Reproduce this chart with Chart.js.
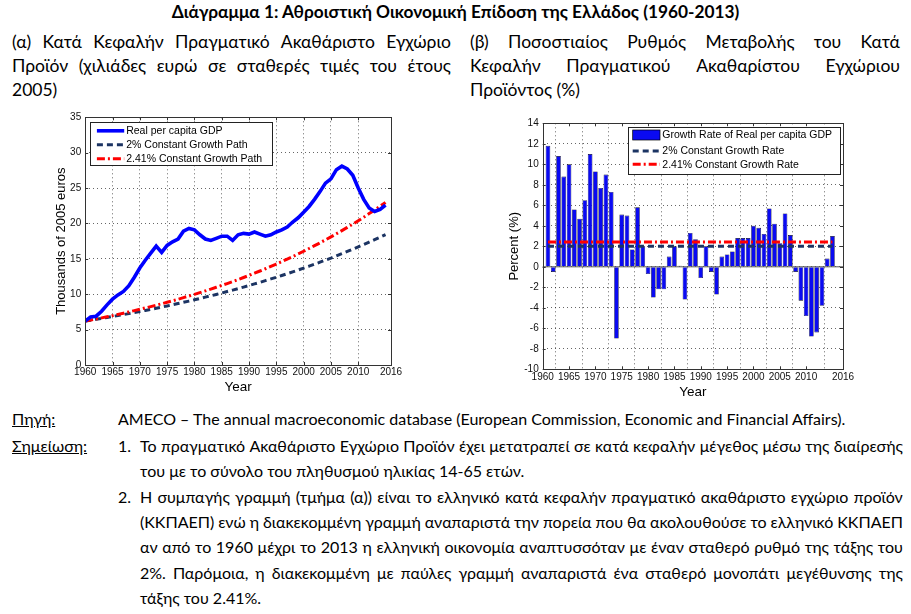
<!DOCTYPE html>
<html>
<head>
<meta charset="utf-8">
<script src="https://cdn.jsdelivr.net/npm/chart.js@4.4.0/dist/chart.umd.min.js"></script>
<style>
  html,body{margin:0;padding:0;background:#fff;}
  body{width:911px;height:614px;position:relative;overflow:hidden;font-family:Lato,'Liberation Sans',sans-serif;color:#000;}
  .t{position:absolute;white-space:nowrap;line-height:24px;height:24px;}
  .j{display:flex;justify-content:space-between;}
  .hd{font-size:17.5px;}
  .ft{font-size:16px;}
  .u{text-decoration:underline;}
  .cv{position:absolute;}
</style>
</head>
<body>
<div class="t" style="left:0;width:911px;top:0;text-align:center;font-weight:bold;font-size:17.3px;">Διάγραμμα 1: Αθροιστική Οικονομική Επίδοση της Ελλάδος (1960-2013)</div>

<div class="t hd j" style="left:12px;width:439px;top:30px;">(α) Κατά Κεφαλήν Πραγματικό Ακαθάριστο Εγχώριο</div>
<div class="t hd j" style="left:12px;width:439px;top:54px;">Προϊόν (χιλιάδες ευρώ σε σταθερές τιμές του έτους</div>
<div class="t hd" style="left:12px;top:78px;">2005)</div>

<div class="t hd j" style="left:470px;width:430px;top:30px;">(β) Ποσοστιαίος Ρυθμός Μεταβολής του Κατά</div>
<div class="t hd j" style="left:470px;width:430px;top:54px;">Κεφαλήν Πραγματικού Ακαθαρίστου Εγχώριου</div>
<div class="t hd" style="left:470px;top:78px;">Προϊόντος (%)</div>

<div class="cv" style="left:45px;top:105px;width:360px;height:290px;"><canvas id="cL" width="360" height="290"></canvas></div>
<div class="cv" style="left:495px;top:110px;width:365px;height:290px;"><canvas id="cR" width="365" height="290"></canvas></div>

<div class="t ft u" style="left:12px;top:407px;">Πηγή:</div>
<div class="t ft" style="left:118px;top:407px;">AMECO – The annual macroeconomic database (European Commission, Economic and Financial Affairs).</div>
<div class="t ft u" style="left:12px;top:434px;">Σημείωση:</div>
<div class="t ft" style="left:118px;top:434px;">1.</div>
<div class="t ft j" style="left:140px;width:763px;top:434px;">Το πραγματικό Ακαθάριστο Εγχώριο Προϊόν έχει μετατραπεί σε κατά κεφαλήν μέγεθος μέσω της διαίρεσής</div>
<div class="t ft" style="left:140px;top:459px;">του με το σύνολο του πληθυσμού ηλικίας 14-65 ετών.</div>
<div class="t ft" style="left:118px;top:485px;">2.</div>
<div class="t ft j" style="left:140px;width:763px;top:485px;">Η συμπαγής γραμμή (τμήμα (α)) είναι το ελληνικό κατά κεφαλήν πραγματικό ακαθάριστο εγχώριο προϊόν</div>
<div class="t ft j" style="left:140px;width:763px;top:510px;">(ΚΚΠΑΕΠ) ενώ η διακεκομμένη γραμμή αναπαριστά την πορεία που θα ακολουθούσε το ελληνικό ΚΚΠΑΕΠ</div>
<div class="t ft j" style="left:140px;width:763px;top:535px;">αν από το 1960 μέχρι το 2013 η ελληνική οικονομία αναπτυσσόταν με έναν σταθερό ρυθμό της τάξης του</div>
<div class="t ft j" style="left:140px;width:763px;top:561px;">2%. Παρόμοια, η διακεκομμένη με παύλες γραμμή αναπαριστά ένα σταθερό μονοπάτι μεγέθυνσης της</div>
<div class="t ft" style="left:140px;top:586px;">τάξης του 2.41%.</div>

<script>
// ---------------- DATA ----------------
const years = [1960,1961,1962,1963,1964,1965,1966,1967,1968,1969,
  1970,1971,1972,1973,1974,1975,1976,1977,1978,1979,
  1980,1981,1982,1983,1984,1985,1986,1987,1988,1989,
  1990,1991,1992,1993,1994,1995,1996,1997,1998,1999,
  2000,2001,2002,2003,2004,2005,2006,2007,2008,2009,
  2010,2011,2012,2013,2014,2015];
// Real per capita GDP (thousands of 2005 euros)
const realGdp = [6.2,6.8,6.9,7.6,8.5,9.3,9.9,10.4,11.2,12.4,
  13.7,14.8,15.8,16.8,15.9,16.9,17.4,17.8,18.9,19.3,
  19.1,18.4,17.8,17.6,17.9,18.2,18.2,17.6,18.4,18.6,
  18.5,18.8,18.5,18.2,18.4,18.8,19.1,19.5,20.2,20.8,
  21.6,22.4,23.4,24.5,25.7,26.3,27.6,28.1,27.7,26.8,
  25.0,23.4,22.2,21.7,22.0,22.6];
// 2% constant growth path
const path2 = [6.20,6.32,6.45,6.58,6.71,6.85,6.98,7.12,7.26,7.41,
  7.56,7.71,7.86,8.02,8.18,8.34,8.51,8.68,8.86,9.03,
  9.21,9.40,9.59,9.78,9.97,10.17,10.38,10.58,10.79,11.01,
  11.23,11.46,11.68,11.92,12.16,12.40,12.65,12.90,13.16,13.42,
  13.69,13.96,14.24,14.53,14.82,15.11,15.42,15.73,16.04,16.36,
  16.69,17.02,17.36,17.71,18.06,18.42];
// 2.41% constant growth path
const path241 = [6.20,6.35,6.50,6.66,6.82,6.98,7.15,7.32,7.50,7.68,
  7.87,8.06,8.25,8.45,8.65,8.86,9.07,9.29,9.52,9.75,
  9.98,10.22,10.47,10.72,10.98,11.24,11.51,11.79,12.07,12.36,
  12.66,12.97,13.28,13.60,13.93,14.27,14.61,14.96,15.32,15.69,
  16.07,16.46,16.86,17.26,17.68,18.10,18.54,18.99,19.44,19.91,
  20.39,20.88,21.39,21.90,22.43,22.97];

const growthYears = [1961,1962,1963,1964,1965,1966,1967,1968,1969,1970,
  1971,1972,1973,1974,1975,1976,1977,1978,1979,1980,
  1981,1982,1983,1984,1985,1986,1987,1988,1989,1990,
  1991,1992,1993,1994,1995,1996,1997,1998,1999,2000,
  2001,2002,2003,2004,2005,2006,2007,2008,2009,2010,
  2011,2012,2013,2014,2015];
// Growth rate of real per capita GDP (%)
const growth = [11.8,-0.5,10.8,8.8,10.0,5.6,4.7,6.5,11.0,9.3,
  7.7,9.0,7.3,-7.0,5.1,5.0,1.7,5.8,2.0,-0.7,
  -3.0,-2.2,-2.2,1.0,2.0,0.1,-3.2,3.3,2.7,-1.1,
  2.0,-0.5,-2.7,1.0,1.2,1.5,2.8,2.8,2.8,4.0,
  3.8,3.2,5.7,4.2,2.3,5.2,3.1,-0.5,-3.3,-4.8,
  -6.8,-6.4,-3.8,0.8,3.0];
// Constant growth rate reference lines (start/end years and levels)
const rateYears = [1961, 2015];
const rate2 = [2, 2];
const rate241 = [2.41, 2.41];

const legendLeft = ['Real per capita GDP','2% Constant Growth Path','2.41% Constant Growth Path'];
const legendRight = ['Growth Rate of Real per capita GDP','2% Constant Growth Rate','2.41% Constant Growth Rate'];

const xTickValsLeft = [1960,1965,1970,1975,1980,1985,1990,1995,2000,2005,2010,2016];
const xTickValsRight = [1960,1965,1970,1975,1980,1985,1990,1995,2000,2005,2010,2017];
const xTickLabels = ['1960','1965','1970','1975','1980','1985','1990','1995','2000','2005','2010','2016'];
const yTicksLeft = [0,5,10,15,20,25,30,35];
const yTicksRight = [-10,-8,-6,-4,-2,0,2,4,6,8,10,12,14];

// ---------------- TEXT JUSTIFY ----------------
document.querySelectorAll('.j').forEach(el => {
  const words = el.textContent.trim().split(/\s+/);
  el.textContent = '';
  words.forEach(w => { const s = document.createElement('span'); s.textContent = w; el.appendChild(s); });
});

// ---------------- STYLES ----------------
const tickFont = {family:"'Liberation Sans Narrow','Liberation Sans',Arial,sans-serif", size:10};
const axisFont = {family:"'Liberation Sans',Arial,sans-serif", size:13};
const legendFontStr = "10.5px 'Liberation Sans', Arial, sans-serif";
const NAVY = '#1c3463';
const RED = '#ff0000';
const BLUE = '#0000ff';

const framePlugin = {
  id: 'frame',
  afterDraw(chart, args, o) {
    const {ctx, chartArea: a} = chart;
    const xs = chart.scales.x, ys = chart.scales.y;
    ctx.save();
    if (o.baseline) {
      const y0 = ys.getPixelForValue(0);
      ctx.strokeStyle = '#555'; ctx.lineWidth = 1; ctx.setLineDash([]);
      ctx.beginPath(); ctx.moveTo(a.left, y0); ctx.lineTo(a.right, y0); ctx.stroke();
    }
    // box
    ctx.strokeStyle = '#333'; ctx.lineWidth = 1; ctx.setLineDash([]);
    ctx.strokeRect(Math.round(a.left)+0.5, Math.round(a.top)+0.5, Math.round(a.right-a.left), Math.round(a.bottom-a.top));
    // inward ticks
    const tl = 3;
    ctx.beginPath();
    xs.ticks.forEach(t => {
      const px = Math.round(xs.getPixelForValue(t.value))+0.5;
      ctx.moveTo(px, a.bottom); ctx.lineTo(px, a.bottom - tl);
      ctx.moveTo(px, a.top); ctx.lineTo(px, a.top + tl);
    });
    ys.ticks.forEach(t => {
      const py = Math.round(ys.getPixelForValue(t.value))+0.5;
      ctx.moveTo(a.left, py); ctx.lineTo(a.left + tl, py);
      ctx.moveTo(a.right, py); ctx.lineTo(a.right - tl, py);
    });
    ctx.stroke();

    // legend
    const L = o.legend;
    const bx = L.right != null ? a.right - L.right - L.w : a.left + L.left;
    const by = a.top + L.top;
    ctx.fillStyle = '#fff';
    ctx.fillRect(bx, by, L.w, L.h);
    ctx.strokeStyle = '#222'; ctx.lineWidth = 1;
    ctx.strokeRect(Math.round(bx)+0.5, Math.round(by)+0.5, Math.round(L.w), Math.round(L.h));
    ctx.font = legendFontStr; ctx.textBaseline = 'middle'; ctx.textAlign = 'left';
    L.order.forEach((di, k) => {
      const ds = chart.data.datasets[di];
      const cy = by + L.rows[k];
      const x0 = bx + L.s0, x1 = bx + L.s1;
      if (ds.type === 'bar') {
        ctx.fillStyle = ds.backgroundColor;
        ctx.fillRect(x0, cy - 5, x1 - x0, 10);
        ctx.strokeStyle = '#000'; ctx.lineWidth = 0.7; ctx.setLineDash([]);
        ctx.strokeRect(x0, cy - 5, x1 - x0, 10);
      } else {
        ctx.strokeStyle = ds.borderColor; ctx.lineWidth = ds.borderWidth;
        ctx.setLineDash(ds.borderDash || []);
        ctx.beginPath(); ctx.moveTo(x0, cy); ctx.lineTo(x1, cy); ctx.stroke();
        ctx.setLineDash([]);
      }
      ctx.fillStyle = '#000';
      ctx.fillText(ds.label, bx + L.tx, cy + 0.5);
    });
    ctx.restore();
  }
};

function xScale(min, max, vals, titlePad, h) {
  return {
    type: 'linear', min, max, offset: false,
    afterBuildTicks: s => { s.ticks = vals.map(v => ({value: v})); },
    afterFit: s => { s.height = h; },
    ticks: { callback: (v, i) => xTickLabels[i], font: tickFont, color: '#111', padding: titlePad, maxRotation: 0, autoSkip: false },
    grid: { color: 'rgba(0,0,0,0.6)', lineWidth: 1, drawTicks: false },
    border: { display: false, dash: [1, 3] },
    title: { display: true, text: 'Year', font: {family: axisFont.family, size: 13.5}, color: '#000', padding: {top: 0, bottom: 0} }
  };
}
function yScale(min, max, vals, title, w, tpad) {
  return {
    min, max,
    afterBuildTicks: s => { s.ticks = vals.map(v => ({value: v})); },
    afterFit: s => { s.width = w; },
    ticks: { font: tickFont, color: '#111', padding: 4 },
    grid: { color: 'rgba(0,0,0,0.6)', lineWidth: 1, drawTicks: false },
    border: { display: false, dash: [1, 3] },
    title: { display: true, text: title, font: axisFont, color: '#000', padding: {top: tpad, bottom: 0} }
  };
}

// ---------------- LEFT CHART ----------------
new Chart(document.getElementById('cL'), {
  type: 'line',
  data: {
    datasets: [
      {label: legendLeft[0], data: years.map((y, i) => ({x: y, y: realGdp[i]})), borderColor: BLUE, borderWidth: 3.6, pointRadius: 0, tension: 0, order: 0},
      {label: legendLeft[1], data: years.map((y, i) => ({x: y, y: path2[i]})), borderColor: NAVY, borderWidth: 3, borderDash: [6, 4], pointRadius: 0, order: 2},
      {label: legendLeft[2], data: years.map((y, i) => ({x: y, y: path241[i]})), borderColor: RED, borderWidth: 3, borderDash: [8, 3, 2, 3], pointRadius: 0, order: 1}
    ]
  },
  options: {
    responsive: false, animation: false,
    layout: {padding: {left: 0, top: 12.3, right: 14, bottom: 0}},
    plugins: {
      legend: {display: false}, tooltip: {enabled: false},
      frame: {baseline: false, legend: {left: 5, top: 5, w: 182, h: 43, rows: [8.5, 22.5, 36.5], s0: 6.7, s1: 34, tx: 36, order: [0, 1, 2]}}
    },
    scales: {
      x: xScale(1960, 2016, xTickValsLeft, 1, 30),
      y: yScale(0, 35, yTicksLeft, 'Thousands of 2005 euros', 40.2, 8.5)
    }
  },
  plugins: [framePlugin]
});

// ---------------- RIGHT CHART ----------------
new Chart(document.getElementById('cR'), {
  data: {
    datasets: [
      {type: 'bar', label: legendRight[0], data: growthYears.map((y, i) => ({x: y, y: growth[i]})), backgroundColor: '#0a0af2', borderColor: '#000022', borderWidth: 0.6, categoryPercentage: 1, barPercentage: 0.88, order: 3},
      {type: 'line', label: legendRight[1], data: rateYears.map((y, i) => ({x: y, y: rate2[i]})), borderColor: NAVY, borderWidth: 3, borderDash: [6, 4], pointRadius: 0, order: 1},
      {type: 'line', label: legendRight[2], data: rateYears.map((y, i) => ({x: y, y: rate241[i]})), borderColor: RED, borderWidth: 3, borderDash: [8, 3, 2, 3], pointRadius: 0, order: 0}
    ]
  },
  options: {
    responsive: false, animation: false,
    layout: {padding: {left: 0, top: 13.3, right: 17, bottom: 0}},
    plugins: {
      legend: {display: false}, tooltip: {enabled: false},
      frame: {baseline: true, legend: {right: 2.3, top: 3.4, w: 212.4, h: 46.6, rows: [8.3, 24.3, 37.6], s0: 4.4, s1: 31.7, tx: 34, order: [0, 1, 2]}}
    },
    scales: {
      x: xScale(1960, 2017, xTickValsRight, 1.7, 30.7),
      y: yScale(-10, 14, yTicksRight, 'Percent (%)', 47.7, 12)
    }
  },
  plugins: [framePlugin]
});
</script>
</body>
</html>
